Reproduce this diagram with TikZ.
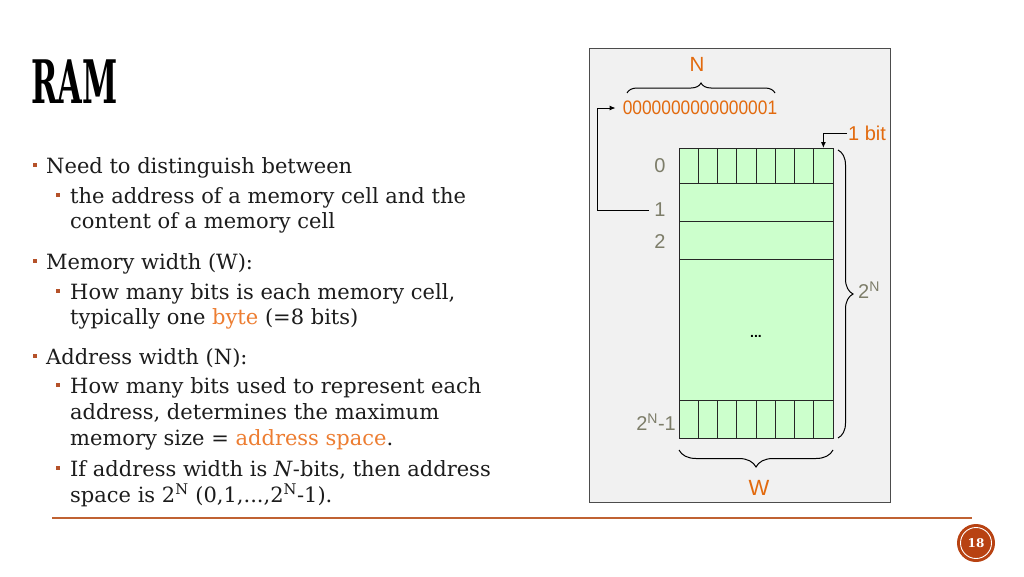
\documentclass[tikz,border=0pt]{standalone}
\usepackage{graphicx}
\usepackage{fontspec}
\setmainfont{DejaVu Serif}
\newfontfamily\diagfont{Liberation Sans}
\usetikzlibrary{decorations.pathreplacing,arrows.meta}
\definecolor{txt}{RGB}{28,28,28}
\definecolor{bul}{RGB}{181,82,42}
\definecolor{hl}{RGB}{237,125,49}
\definecolor{dorg}{RGB}{226,106,14}
\definecolor{lbl}{RGB}{125,125,105}
\definecolor{mem}{RGB}{204,255,204}
\definecolor{panel}{RGB}{241,241,241}
\definecolor{rulec}{RGB}{192,98,50}
\definecolor{pgc}{RGB}{184,66,18}
\newcommand{\bodyfont}{\fontsize{21}{25}\selectfont}
\newcommand{\dfont}[1]{\diagfont\fontsize{#1}{#1}\selectfont}
\tikzset{
  line1/.style={anchor=base west, inner sep=0, text=txt, font=\bodyfont},
  bulletbox/.style={fill=bul, inner sep=0, minimum size=4.8pt},
  cellbox/.style={draw=black!85, fill=mem, line width=0.8pt, inner sep=0, outer sep=0, anchor=north west},
  lab/.style={text=lbl, font=\dfont{20}, inner sep=1pt},
  org/.style={text=dorg, font=\dfont{19.5}, inner sep=1pt},
  arr/.style={draw=black, line width=1pt, -{Latex[length=6pt,width=5pt]}},
  bracec/.style={draw=black, line width=1pt, decorate},
}
\begin{document}
\begin{tikzpicture}[x=1pt,y=-1pt]
\useasboundingbox (0,0) rectangle (1024,576);
\fill[white] (0,0) rectangle (1024,576);

% title
\node[anchor=base west, inner sep=0] (title) at (31,103)
  {\fontsize{60}{60}\selectfont\bfseries\scalebox{0.53}[1]{RAM}};

% bullets text
\node[bulletbox] (b1) at (35,165) {};
\node[line1] (t1) at (46,173) {Need to distinguish between};
\node[bulletbox] (b2) at (58,195) {};
\node[line1] (t2) at (70,203) {the address of a memory cell and the};
\node[line1] (t3) at (70,228) {content of a memory cell};

\node[bulletbox] (b3) at (35,261) {};
\node[line1] (t4) at (46,269) {Memory width (W):};
\node[bulletbox] (b4) at (58,291) {};
\node[line1] (t5) at (70,299) {How many bits is each memory cell,};
\node[line1] (t6) at (70,324) {typically one {\color{hl}byte} (=8 bits)};

\node[bulletbox] (b5) at (35,356) {};
\node[line1] (t7) at (46,364) {Address width (N):};
\node[bulletbox] (b6) at (58,385) {};
\node[line1] (t8) at (70,393) {How many bits used to represent each};
\node[line1] (t9) at (70,419) {address, determines the maximum};
\node[line1] (t10) at (70,445) {memory size = {\color{hl}address space}.};
\node[bulletbox] (b7) at (58,468) {};
\node[line1] (t11) at (70,476) {If address width is \textit{N}-bits, then address};
\node[line1] (t12) at (70,502) {space is 2\textsuperscript{N} (0,1,...,2\textsuperscript{N}-1).};

% rule and page number
\draw[rulec, line width=1.2pt] (52,518) -- (972,518);
\node[circle, fill=pgc, minimum size=38pt, inner sep=0, text=white,
  font=\fontsize{12}{12}\selectfont\bfseries] (pg) at (976,543) {18};
\draw[white, line width=0.9pt] (pg.center) circle[radius=15.5];

% diagram panel
\draw[fill=panel, draw=black!70, line width=0.9pt] (589,48) rectangle (890,502);

% memory
\foreach \i in {0,...,7}
  \node[cellbox, minimum width=19.25pt, minimum height=35pt] (a\i) at ({679+\i*19.25},148) {};
\node[cellbox, minimum width=154pt, minimum height=38pt] (r1) at (679,183) {};
\node[cellbox, minimum width=154pt, minimum height=38pt] (r2) at (679,221) {};
\node[cellbox, minimum width=154pt, minimum height=141pt] (rbig) at (679,259) {};
\foreach \i in {0,...,7}
  \node[cellbox, minimum width=19.25pt, minimum height=38pt] (z\i) at ({679+\i*19.25},400) {};
\node[font=\dfont{14}\bfseries, inner sep=0] (dots) at (756,336) {...};

% labels
\node[lab] (l0) at (660,166) {0};
\node[lab] (l1) at (660,210) {1};
\node[lab] (l2) at (660,242) {2};
\node[lab, anchor=east] (llast) at (677,422) {2\textsuperscript{N}-1};
\node[lab, anchor=west] (ltwoN) at (857,290) {2\textsuperscript{N}};

% address
\node[org, inner sep=0] (addr) at (700,108) {\scalebox{0.89}[1]{0000000000000001}};
\node[org, font=\dfont{20.5}] (N) at (697,64) {N};
\node[org, font=\dfont{22}] (W) at (759,488) {W};
\node[org, anchor=west, font=\dfont{20}] (bit) at (847,133) {1 bit};

% connectors
\draw[arr] ([xshift=-4pt]l1.west) -- ++(-52,0) |- ([xshift=-7pt]addr.west);
\draw[arr] (bit.west) -| (a7.north);

% braces
\draw[bracec, decoration={brace, amplitude=10pt}] (627,93) -- (775,93);
\draw[bracec, decoration={brace, amplitude=15pt}] (838,150) -- (838,438);
\draw[bracec, decoration={brace, amplitude=17pt}] (833,450) -- (679,450);
\end{tikzpicture}
\end{document}
